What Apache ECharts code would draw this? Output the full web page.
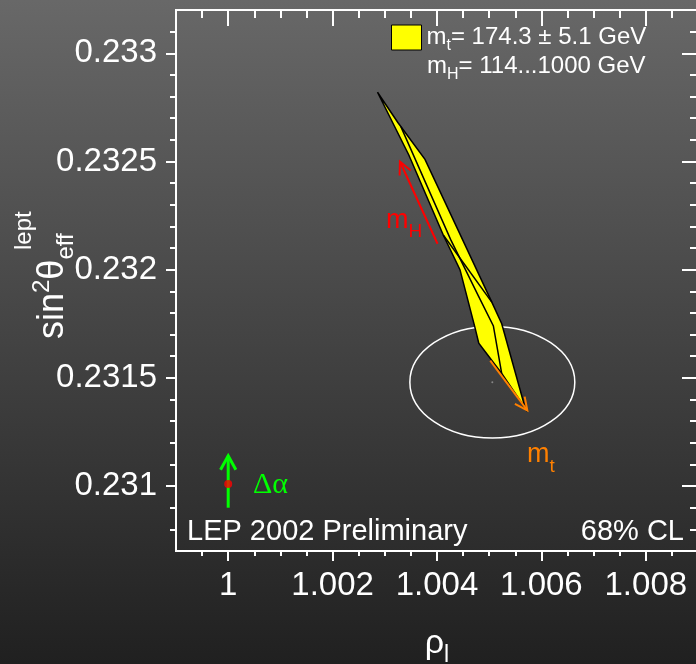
<!DOCTYPE html>
<html><head><meta charset="utf-8">
<script src="https://cdn.jsdelivr.net/npm/echarts@6/dist/echarts.min.js"></script>
<style>html,body{margin:0;padding:0;background:#333;overflow:hidden}#c{width:696px;height:664px}</style>
</head><body><div id="c"></div>
<script>
// ---- data ----
const xRange = [0.999, 1.009];
const yRange = [0.2307, 0.2332];
const xMajorTicks = [1.000, 1.002, 1.004, 1.006, 1.008];
const xMinorTicks = [0.9995, 1.0005, 1.001, 1.0015, 1.0025, 1.003, 1.0035, 1.0045, 1.005, 1.0055, 1.0065, 1.007, 1.0075, 1.0085];
const yMajorTicks = [0.231, 0.2315, 0.232, 0.2325, 0.233];
const yMinorTicks = [0.2308, 0.2309, 0.2311, 0.2312, 0.2313, 0.2314, 0.2316, 0.2317, 0.2318, 0.2319, 0.2321, 0.2322, 0.2323, 0.2324, 0.2326, 0.2327, 0.2328, 0.2329, 0.2331];
const bandOutline = [[1.00286,0.23282],[1.00325,0.23268],[1.00377,0.23251],[1.00505,0.23185],[1.00524,0.23175],[1.00569,0.23136],[1.00524,0.23152],[1.00480,0.23166],[1.00473,0.23173],[1.00444,0.23200],[1.00412,0.23216],[1.00346,0.23253]];
const bandInnerA = [[1.00331,0.23266],[1.00426,0.23214],[1.00479,0.23188],[1.00508,0.23174],[1.00524,0.23152]];
const bandInnerB = [[1.00412,0.23216],[1.00505,0.23185]];
const ellipseCenter = [1.00506, 0.23148];
const ellipseRadii = [0.00158, 0.000258];
const arrowMH = [1.00401, 0.23212, 1.00329, 0.23250];
const arrowMt = [1.00502, 0.23158, 1.00573, 0.23135];
const arrowAlpha = [1.0, 0.23090, 1.0, 0.23114];
const smPoint = [1.0, 0.23101];
const BAND_NAME = 'mt = 174.3 ± 5.1 GeV';
const legendLine1 = ['m', 't', '= 174.3 ± 5.1 GeV'];
const legendLine2 = ['m', 'H', '= 114...1000 GeV'];

// ---- chart ----
const FONT = '"Liberation Sans", Arial, Helvetica, sans-serif';
const chart = echarts.init(document.getElementById('c'), null, {renderer: 'canvas'});
const W = '#ffffff';
const fmt = v => String(parseFloat(Number(v).toFixed(4)));

// rich styles: main text with tall line, sub/superscripts placed by top padding
function richSS(F, f, down, up, color, family) {
  const fam = family || FONT;
  return {
    m: {fontSize: F, lineHeight: 2 * F, fontFamily: fam, fill: color, color: color},
    s: {fontSize: f, lineHeight: f, verticalAlign: 'top', padding: [Math.max(0, 1.31 * F + down - 0.81 * f), 0, 0, 0], fontFamily: fam, fill: color, color: color},
    p: {fontSize: f, lineHeight: f, verticalAlign: 'top', padding: [Math.max(0, 1.31 * F - up - 0.81 * f), 0, 0, 0], fontFamily: fam, fill: color, color: color}
  };
}

function xAx(pos, ticks, len, inside, labels) {
  return {
    type: 'value', position: pos, min: xRange[0], max: xRange[1],
    axisLine: {show: true, onZero: false, lineStyle: {color: W, width: 2}},
    axisTick: {show: true, inside: inside, length: len, customValues: ticks, lineStyle: {color: W, width: 2}},
    axisLabel: labels ? {show: true, customValues: ticks, color: W, fontSize: 33, fontFamily: FONT, margin: 18, formatter: fmt} : {show: false},
    splitLine: {show: false}
  };
}
function yAx(pos, ticks, len, inside, labels) {
  return {
    type: 'value', position: pos, min: yRange[0], max: yRange[1],
    axisLine: {show: true, onZero: false, lineStyle: {color: W, width: 2}},
    axisTick: {show: true, inside: inside, length: len, customValues: ticks, lineStyle: {color: W, width: 2}},
    axisLabel: labels ? {show: true, customValues: ticks, color: W, fontSize: 33, fontFamily: FONT, margin: 19, formatter: fmt} : {show: false},
    splitLine: {show: false}
  };
}
const xAxes = [xAx('bottom', xMajorTicks, 10, false, true), xAx('bottom', xMinorTicks, 5, false, false),
               xAx('top', xMajorTicks, 16, true, false), xAx('top', xMinorTicks, 8, true, false)];
Object.assign(xAxes[0], {
  name: '{m|ρ}{s|l}', nameLocation: 'middle', nameGap: 59,
  nameTextStyle: {color: W, fontFamily: FONT, rich: richSS(34, 23, 8, 0, W)}
});
const yAxes = [yAx('left', yMajorTicks, 10, false, true), yAx('left', yMinorTicks, 6, false, false),
               yAx('right', yMajorTicks, 16, true, false), yAx('right', yMinorTicks, 8, true, false)];

function polySeries(name, pts, closed, z, extra) {
  return Object.assign({
    type: 'custom', name: name, coordinateSystem: 'cartesian2d', xAxisIndex: 0, yAxisIndex: 0,
    data: pts, z: z, silent: true, clip: false,
    renderItem: function (params, api) {
      if (params.dataIndex !== 0) return null;
      const p = pts.map(d => api.coord(d));
      return closed
        ? {type: 'polygon', shape: {points: p}, style: {fill: '#ffff00', stroke: '#000', lineWidth: 1.5, lineJoin: 'miter'}}
        : {type: 'polyline', shape: {points: p}, style: {fill: null, stroke: '#000', lineWidth: 1.5}};
    }
  }, extra || {});
}
function arrowSeries(name, d, color, width, L, a) {
  return {
    type: 'custom', name: name, coordinateSystem: 'cartesian2d', data: [d], z: 6, silent: true,
    renderItem: function (params, api) {
      const p1 = api.coord([api.value(0), api.value(1)]);
      const p2 = api.coord([api.value(2), api.value(3)]);
      const ang = Math.atan2(p2[1] - p1[1], p2[0] - p1[0]);
      const h1 = [p2[0] - L * Math.cos(ang - a), p2[1] - L * Math.sin(ang - a)];
      const h2 = [p2[0] - L * Math.cos(ang + a), p2[1] - L * Math.sin(ang + a)];
      return {type: 'group', children: [
        {type: 'line', shape: {x1: p1[0], y1: p1[1], x2: p2[0], y2: p2[1]}, style: {stroke: color, lineWidth: width}},
        {type: 'polyline', shape: {points: [h1, p2, h2]}, style: {stroke: color, lineWidth: width, fill: null}}
      ]};
    }
  };
}

const series = [
  {
    type: 'custom', name: 'ellipse', data: [[ellipseCenter[0], ellipseCenter[1], ellipseRadii[0], ellipseRadii[1]]], z: 1, silent: true,
    renderItem: function (params, api) {
      const c = api.coord([api.value(0), api.value(1)]);
      const s = api.size([api.value(2), api.value(3)], [api.value(0), api.value(1)]);
      return {type: 'ellipse', shape: {cx: c[0], cy: c[1], rx: s[0], ry: s[1]}, style: {fill: null, stroke: '#ffffff', lineWidth: 1.5}};
    }
  },
  polySeries(BAND_NAME, bandOutline, true, 2, {itemStyle: {color: '#ffff00', borderColor: '#000', borderWidth: 1}}),
  polySeries('innerA', bandInnerA, false, 3),
  polySeries('innerB', bandInnerB, false, 3),
  arrowSeries('mH', arrowMH, '#ff0000', 2, 14, 0.45),
  arrowSeries('mt', arrowMt, '#ff8000', 2, 14, 0.45),
  arrowSeries('alpha', arrowAlpha, '#00ff00', 3, 16, 0.5),
  {type: 'scatter', name: 'sm', data: [smPoint], symbol: 'circle', symbolSize: 8, itemStyle: {color: '#ff0000'}, z: 7, silent: true},
  {type: 'scatter', name: 'centre', data: [ellipseCenter], symbol: 'circle', symbolSize: 2, itemStyle: {color: '#999'}, z: 7, silent: true}
];

function txt(x, y, text, fs, color, align, rich, family, rotation, valign) {
  const el = {
    type: 'text', x: x, y: y, silent: true, z: 100,
    style: {text: text, fill: color, fontSize: fs, fontFamily: family || FONT, align: align, textAlign: align,
            verticalAlign: valign || 'middle', textVerticalAlign: valign || 'middle'}
  };
  if (rich) el.style.rich = rich;
  if (rotation) el.rotation = rotation;
  return el;
}

const graphics = [
  txt(427, 66, '{m|' + legendLine2[0] + '}{s|' + legendLine2[1] + '}{m|' + legendLine2[2] + '}', 24, W, 'left', richSS(24, 16, 6, 0, W)),
  txt(187, 532, 'LEP 2002 Preliminary', 29, W, 'left'),
  txt(684, 532, '68% CL', 29, W, 'right'),
  txt(386, 221, '{m|m}{s|H}', 27, '#ff0000', 'left', richSS(27, 19, 8, 0, '#ff0000')),
  txt(527, 455, '{m|m}{s|t}', 27, '#ff8000', 'left', richSS(27, 19, 9, 0, '#ff8000')),
  txt(253, 485, 'Δα', 30, '#00ff00', 'left', null, '"Liberation Serif", "DejaVu Serif", serif'),
  // y axis title (rotated, reads bottom to top); middle of block lies at main baseline - 0.31F
  txt(64 - 0.31 * 36, 339, '{m|sin}{p|2}{m|θ}{s|eff}', 36, W, 'left', richSS(36, 24, 10, 14, W), null, Math.PI / 2),
  txt(32 - 0.31 * 24, 250, 'lept', 24, W, 'left', null, null, Math.PI / 2)
];

const option = {
  animation: false,
  backgroundColor: new echarts.graphic.LinearGradient(0, 0, 0, 1, [{offset: 0, color: '#686868'}, {offset: 1, color: '#202020'}]),
  grid: {left: 176, top: 10, width: 522, height: 541, containLabel: false, outerBoundsMode: 'none'},
  xAxis: xAxes,
  yAxis: yAxes,
  legend: {
    left: 391, top: 13.5, padding: 0, itemWidth: 30, itemHeight: 25, icon: 'rect', itemGap: 0, selectedMode: false,
    itemStyle: {color: '#ffff00', borderColor: '#000', borderWidth: 1},
    data: [BAND_NAME],
    formatter: () => '{m|' + legendLine1[0] + '}{s|' + legendLine1[1] + '}{m|' + legendLine1[2] + '}',
    textStyle: {color: W, fontFamily: FONT, fontSize: 24, rich: richSS(24, 16, 6, 0, W)}
  },
  graphic: {elements: graphics},
  series: series
};
chart.setOption(option);
</script></body></html>
